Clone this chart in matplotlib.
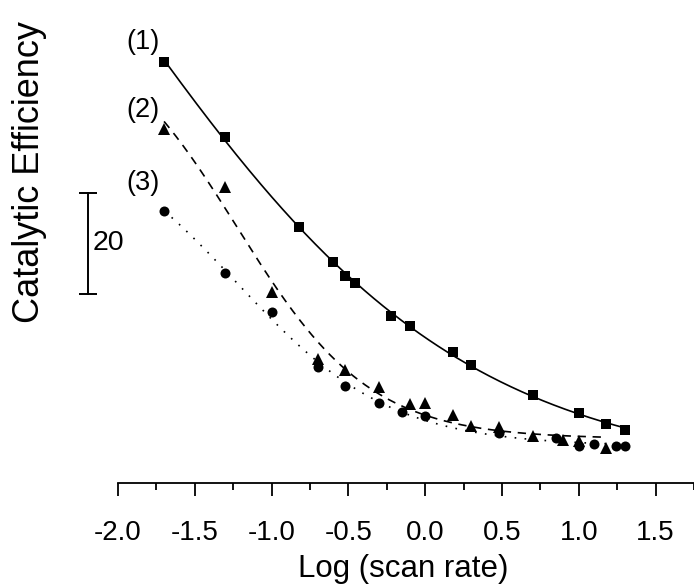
import numpy as np
import matplotlib
matplotlib.use("Agg")
import matplotlib.pyplot as plt
from matplotlib.ticker import FixedLocator

plt.rcParams['font.family'] = ['Liberation Sans', 'DejaVu Sans']

# log(scan rate) and catalytic efficiency for the three electrodes
x1 = np.array([-1.70, -1.30, -0.82, -0.60, -0.52, -0.46, -0.22, -0.10,
               0.18, 0.30, 0.70, 1.00, 1.18, 1.30])
y1 = np.array([83.4, 68.5, 50.7, 43.8, 41.0, 39.6, 33.1, 31.1,
               25.9, 23.4, 17.4, 13.9, 11.7, 10.5])

x2 = np.array([-1.70, -1.30, -1.00, -0.70, -0.52, -0.30, -0.10, 0.00,
               0.18, 0.30, 0.48, 0.70, 0.90, 1.00, 1.18])
y2 = np.array([70.1, 58.6, 37.8, 24.6, 22.4, 19.0, 15.6, 15.8,
               13.5, 11.3, 11.1, 9.3, 8.5, 8.3, 6.9])

x3 = np.array([-1.70, -1.30, -1.00, -0.70, -0.52, -0.30, -0.15, 0.00,
               0.48, 0.85, 1.00, 1.10, 1.24, 1.30])
y3 = np.array([53.9, 41.6, 33.9, 23.0, 19.2, 15.8, 14.1, 13.3,
               9.9, 9.0, 7.4, 7.7, 7.4, 7.4])

series_labels = ["(1)", "(2)", "(3)"]
xtick_values = [-2.0, -1.5, -1.0, -0.5, 0.0, 0.5, 1.0, 1.5]
scale_value = 20


def boltzmann_fit(x, y):
    """Least-squares Boltzmann fit y = A2 + (A1 - A2) / (1 + exp((x - x0)/dx))."""
    best = None
    for x0 in np.linspace(-3.0, 1.0, 161):
        for dx in np.linspace(0.05, 2.0, 118):
            s = 1.0 / (1.0 + np.exp((x - x0) / dx))
            A = np.column_stack([np.ones_like(x), s])
            coef, *_ = np.linalg.lstsq(A, y, rcond=None)
            err = np.sum((A @ coef - y) ** 2)
            if best is None or err < best[0]:
                best = (err, x0, dx, coef)
    _, x0, dx, (a2, d) = best
    xs = np.linspace(x.min(), x.max(), 300)
    return xs, a2 + d / (1.0 + np.exp((xs - x0) / dx))


fig = plt.figure(figsize=(6.94, 5.85), dpi=100)
ax = fig.add_axes([0.0, 102 / 585, 1.0, 483 / 585])
ax.set_xlim(-2.768, 1.75)
ax.set_ylim(0, 95.64)

lw = 1.2
for (x, y, marker, ms, ls) in [
    (x1, y1, 's', 6.7, '-'),
    (x2, y2, '^', 8.0, (0, (5, 4))),
    (x3, y3, 'o', 7.2, (0, (1, 5))),
]:
    xs, ys = boltzmann_fit(x, y)
    ax.plot(xs, ys, color='black', lw=lw, ls=ls, zorder=2)
    ax.plot(x, y, ls='none', marker=marker, ms=ms, color='black',
            markeredgewidth=0, zorder=3)

# series labels
for lab, yy in zip(series_labels, [87.3, 73.9, 59.4]):
    ax.text(-1.835, yy, lab, fontsize=19.5, ha='center', va='center')

# vertical scale bar
bar_x = -2.195
bar_lo = 37.43
ax.plot([bar_x, bar_x], [bar_lo, bar_lo + scale_value], color='black', lw=1.4)
ax.plot([bar_x, bar_x], [bar_lo, bar_lo + scale_value], ls='none', marker='_',
        ms=12.5, mew=1.4, color='black')
ax.text(-2.163, bar_lo + scale_value / 2, str(scale_value), fontsize=20.5,
        ha='left', va='center')

# axes styling
for side in ['left', 'top', 'right']:
    ax.spines[side].set_visible(False)
ax.spines['bottom'].set_bounds(-2.0, 1.75)
ax.spines['bottom'].set_linewidth(1.3)
ax.set_yticks([])
ax.set_xticks(xtick_values)
ax.set_xticklabels([f"{v:.1f}" for v in xtick_values])
ax.xaxis.set_minor_locator(FixedLocator([-1.75, -1.25, -0.75, -0.25, 0.25,
                                         0.75, 1.25, 1.75]))
ax.tick_params(axis='x', which='major', direction='out', length=9, width=1.3,
               labelsize=20, pad=18)
ax.tick_params(axis='x', which='minor', direction='out', length=5, width=1.3)
ax.set_xlabel("Log (scan rate)", fontsize=22.5, va='center')
ax.xaxis.set_label_coords((118 + 190 + 95) / 694, -(569 - 483) / 483)

fig.text(30 / 694, 1 - 172 / 585, "Catalytic Efficiency", rotation=90,
         fontsize=26, ha='center', va='center')

fig.savefig("out.png", dpi=100)
